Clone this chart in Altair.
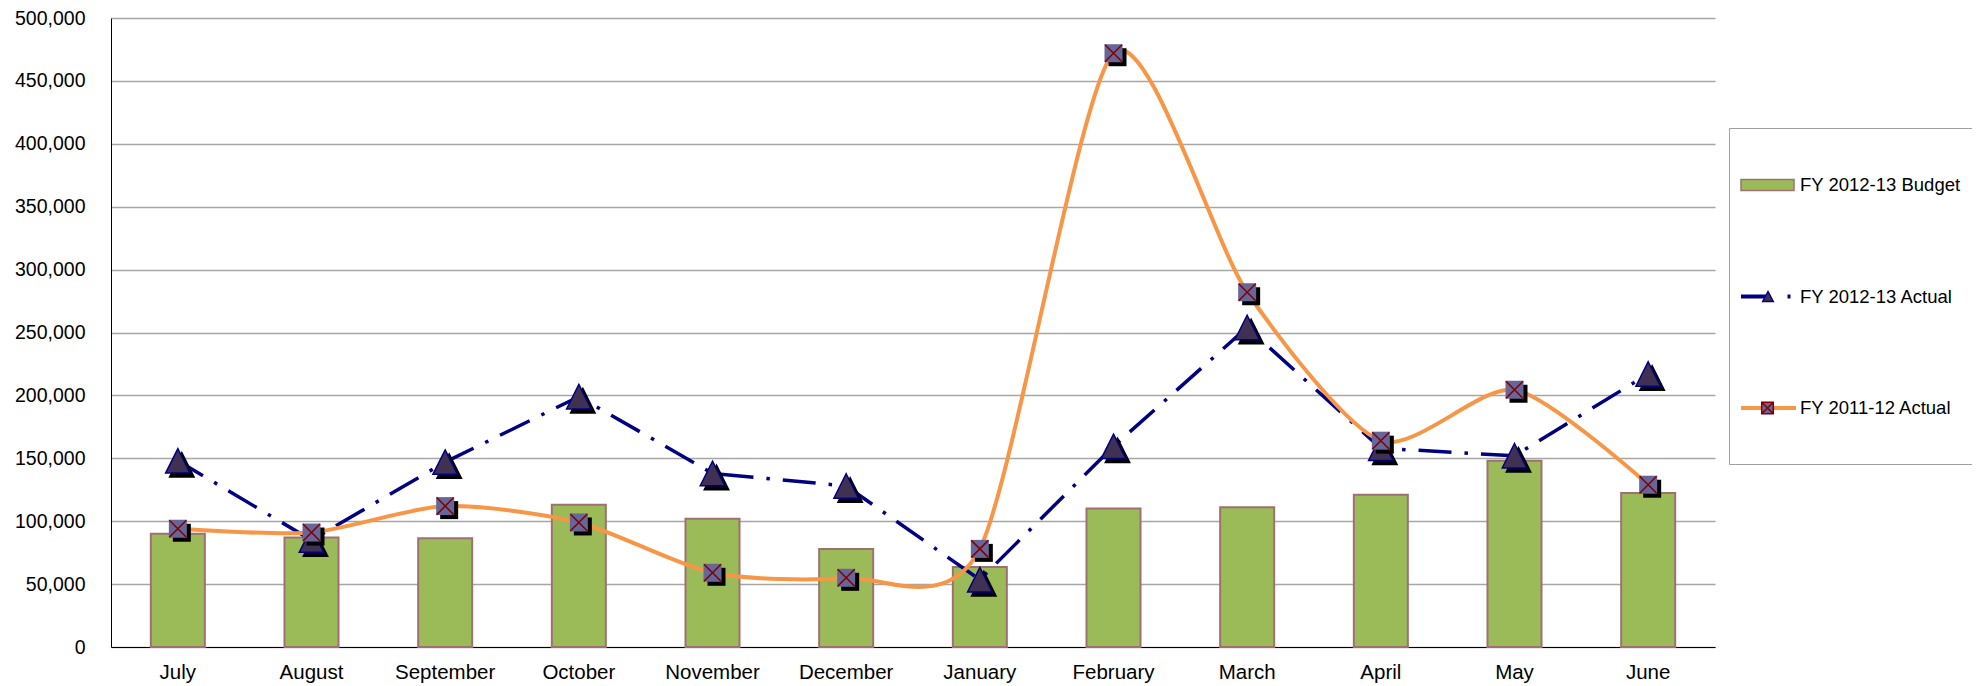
import altair as alt
import pandas as pd

# ---------------- data ----------------
months = ["July", "August", "September", "October", "November", "December",
          "January", "February", "March", "April", "May", "June"]
budget = [90000, 87000, 86500, 113000, 102000, 78000,
          63500, 110000, 111000, 121000, 148000, 122500]
actual_1213 = [148000, 85000, 147000, 199000, 138000, 128000,
               53500, 159500, 254000, 158000, 152000, 217000]
actual_1112 = [94000, 91000, 112000, 99000, 59000, 55000,
               78000, 472000, 282000, 164000, 204500, 129000]
series = ["FY 2012-13 Budget", "FY 2012-13 Actual", "FY 2011-12 Actual"]
y_ticks = [0, 50000, 100000, 150000, 200000, 250000,
           300000, 350000, 400000, 450000, 500000]

df = pd.DataFrame({"month": months, "budget": budget,
                   "a1213": actual_1213, "a1112": actual_1112})
leg_df = pd.DataFrame({"key_a": series, "key_b": ["b0", "b1", "b2"]})

FONT = "Liberation Sans"

x_enc = alt.X("month:N", sort=months,
              scale=alt.Scale(paddingInner=0.596, paddingOuter=0.298),
              axis=alt.Axis(title=None, labelAngle=0, ticks=False, grid=False,
                            domainColor="#000000", domainWidth=1,
                            labelFont=FONT, labelFontSize=20.5, labelColor="#000000",
                            labelPadding=15))
y_scale = alt.Scale(domain=[0, 500000], nice=False)
y_axis = alt.Axis(title=None, values=y_ticks, format=",.0f", ticks=False,
                  domainColor="#000000", domainWidth=1,
                  grid=True, gridColor="#A6A6A6", gridWidth=1.3,
                  labelFont=FONT, labelFontSize=19.5, labelColor="#000000",
                  labelPadding=26)


def Y(field):
    return alt.Y(f"{field}:Q", scale=y_scale, axis=y_axis)


TRI = "M0,-1L1,1L-1,1Z"
SQ = "M-1,-1L1,-1L1,1L-1,1Z"
XX = "M-1,-1L1,1M1,-1L-1,1"

base = alt.Chart(df)
bars = base.mark_bar(fill="#9BBB59", stroke="#A07070", strokeWidth=2, opacity=1).encode(
    x=x_enc, y=Y("budget"))
navy = base.mark_line(color="#000080", strokeWidth=3.5, strokeDash=[33, 13, 3.5, 13],
                      strokeDashOffset=3.8, opacity=1).encode(x=x_enc, y=Y("a1213"))
tri_shadow = base.mark_point(shape=TRI, size=600, filled=True, fill="#000000",
                             stroke="#000000", strokeWidth=1.5, opacity=1,
                             xOffset=4, yOffset=4).encode(x=x_enc, y=Y("a1213"))
tris = base.mark_point(shape=TRI, size=600, filled=True, fill="#403152",
                       stroke="#000080", strokeWidth=1.5, opacity=1).encode(
    x=x_enc, y=Y("a1213"))
orange = base.mark_line(color="#F79646", strokeWidth=4, interpolate="cardinal",
                        tension=0.25, opacity=1).encode(x=x_enc, y=Y("a1112"))
sq_shadow = base.mark_point(shape=SQ, size=324, filled=True, fill="#000000",
                            strokeWidth=0, opacity=1, xOffset=4, yOffset=4).encode(
    x=x_enc, y=Y("a1112"))
squares = base.mark_point(shape=SQ, size=324, filled=True, fill="#666699",
                          strokeWidth=0, opacity=1).encode(x=x_enc, y=Y("a1112"))
xs = base.mark_point(shape=XX, size=290, filled=False, stroke="#800000",
                     strokeWidth=1.5, opacity=1).encode(x=x_enc, y=Y("a1112"))


# ---------------- legend symbols (custom paths) ----------------
def upath(items, u, c=45.0):
    out = []
    for it in items:
        if it[0] == "Z":
            out.append("Z")
        else:
            cmd, px, py = it
            out.append(f"{cmd}{(px - c) / u:.4f},{py / u:.4f}")
    return "".join(out)


# bounds of a stroked symbol grow by 2*strokeWidth on each side
uA = 43.0
bA = [("M", 0, -35), ("M", 0, 35)]
pathsA = [
    upath(bA, uA),
    upath(bA + [("M", 0, 0), ("L", 27, 0), ("M", 46.5, 0), ("L", 49.5, 0)], uA),
    upath(bA + [("M", 0, 0), ("L", 55, 0)], uA),
]
uB = 44.25
bB = [("M", 0, -40), ("M", 0, 40)]
pathsB = [
    upath(bB + [("M", 0, -5.5), ("L", 53, -5.5), ("L", 53, 5.5), ("L", 0, 5.5), ("Z",)], uB),
    upath(bB + [("M", 27, -5), ("L", 32.3, 5), ("L", 21.7, 5), ("Z",)], uB),
    upath(bB + [("M", 20.7, -5.8), ("L", 32.3, -5.8), ("L", 32.3, 5.8), ("L", 20.7, 5.8), ("Z",),
                ("M", 20.7, -5.8), ("L", 32.3, 5.8), ("M", 32.3, -5.8), ("L", 20.7, 5.8)], uB),
]

common_leg = dict(orient="none", legendX=1618, legendY=110, title=None, padding=12,
                  rowPadding=22.5, labelOffset={"expr": "-31"}, labelFont=FONT,
                  labelFontSize=18.5, labelColor="#000000", labelLimit=400)
legA = alt.Legend(symbolSize=7396, symbolStrokeWidth=4, strokeColor="#A0A0A0",
                  fillColor="#FFFFFF", zindex=1, symbolFillColor="transparent", **common_leg)
legB = alt.Legend(symbolSize=7832.25, symbolStrokeWidth=1.5, labelOpacity=0, zindex=2,
                  **common_leg)

LA = alt.Chart(leg_df).mark_point(filled=False, opacity=1, strokeWidth=4, clip=True).encode(
    x=alt.value(-300), y=alt.value(-300),
    stroke=alt.Stroke("key_a:N", scale=alt.Scale(domain=series,
                      range=["transparent", "#000080", "#F79646"]), legend=legA),
    shape=alt.Shape("key_a:N", scale=alt.Scale(domain=series, range=pathsA), legend=legA),
)
keysB = ["b0", "b1", "b2"]
LB = alt.Chart(leg_df).mark_point(filled=True, opacity=1, strokeWidth=1.5, clip=True).encode(
    x=alt.value(-300), y=alt.value(-300),
    fill=alt.Fill("key_b:N", scale=alt.Scale(domain=keysB,
                  range=["#9BBB59", "#403152", "#666699"]), legend=legB),
    stroke=alt.Stroke("key_b:N", scale=alt.Scale(domain=keysB,
                      range=["#A07070", "#000080", "#800000"]), legend=legB),
    shape=alt.Shape("key_b:N", scale=alt.Scale(domain=keysB, range=pathsB), legend=legB),
)

chart = alt.layer(bars, navy, tri_shadow, tris, orange, sq_shadow, squares, xs, LA, LB).resolve_scale(
    stroke="independent", shape="independent", fill="independent"
).properties(
    width=1604, height=629,
    autosize=alt.AutoSizeParams(type="none"),
    padding={"left": 103, "top": 10, "right": 257, "bottom": 45},
    background="white",
).configure_view(strokeWidth=0)

chart.save("out.html", embed_options={"renderer": "svg", "actions": False})
